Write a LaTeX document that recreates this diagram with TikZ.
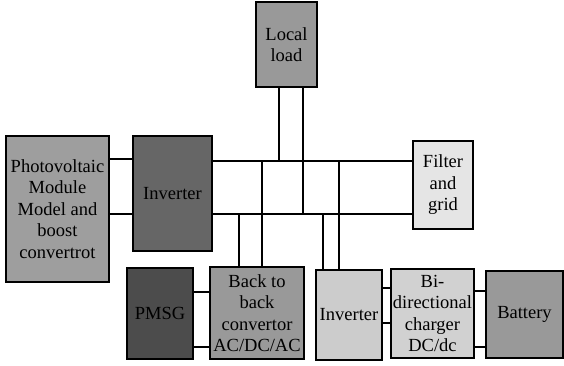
\documentclass[tikz,border=0pt]{standalone}
\usepackage{fontspec}
\setmainfont{Liberation Serif}
\begin{document}
\begin{tikzpicture}[x=1pt,y=-1pt,
  blk/.style={draw=black,line width=1.3pt,align=center,inner sep=0pt,
    font=\fontsize{18.5}{21.5}\selectfont},
  wire/.style={line width=1.3pt}]
\useasboundingbox (0,0) rectangle (564,366);
% boxes (center, width, height)
\node[blk,fill=black!40,minimum width=61,minimum height=85] (load) at (286.5,44.5) {Local\\load};
\node[blk,fill=black!38,minimum width=103,minimum height=146] (pv) at (57.5,209) {Photovoltaic\\Module\\Model and\\boost\\convertrot};
\node[blk,fill=black!60,minimum width=79,minimum height=115] (inv) at (172.5,193.5) {Inverter};
\node[blk,fill=black!10,minimum width=60,minimum height=88] (fil) at (443,185) {Filter\\and\\grid};
\node[blk,fill=black!70,minimum width=66,minimum height=91] (pmsg) at (160,313.5) {PMSG};
\node[blk,fill=black!40,minimum width=94,minimum height=92] (b2b) at (257,313) {Back to\\back\\convertor\\AC/DC/AC};
\node[blk,fill=black!20,minimum width=66,minimum height=90] (inv2) at (349,315) {Inverter};
\node[blk,fill=black!18,minimum width=83,minimum height=89] (bi) at (432.5,313.5) {Bi-\\directional\\charger\\DC/dc};
\node[blk,fill=black!40,minimum width=77,minimum height=87] (bat) at (524.5,314.5) {Battery};
% buses
\coordinate (tb) at (0,161);
\coordinate (bb) at (0,214);
\draw[wire] (inv.east |- tb) -- (fil.west |- tb);
\draw[wire] (inv.east |- bb) -- (fil.west |- bb);
% PV to inverter
\draw[wire] (pv.east |- 0,159) -- (inv.west |- 0,159);
\draw[wire] (pv.east |- 0,214) -- (inv.west |- 0,214);
% local load
\draw[wire] (load.south -| 279,0) -- (279,161);
\draw[wire] (load.south -| 303,0) -- (303,214);
% back to back
\draw[wire] (239,214) -- (b2b.north -| 239,0);
\draw[wire] (262,161) -- (b2b.north -| 262,0);
% inverter2
\draw[wire] (323,214) -- (inv2.north -| 323,0);
\draw[wire] (339,161) -- (inv2.north -| 339,0);
% PMSG to b2b
\draw[wire] (pmsg.east |- 0,292) -- (b2b.west |- 0,292);
\draw[wire] (pmsg.east |- 0,347) -- (b2b.west |- 0,347);
% inv2 to bi
\draw[wire] (inv2.east |- 0,288) -- (bi.west |- 0,288);
\draw[wire] (inv2.east |- 0,323) -- (bi.west |- 0,323);
% bi to battery
\draw[wire] (bi.east |- 0,291) -- (bat.west |- 0,291);
\draw[wire] (bi.east |- 0,347) -- (bat.west |- 0,347);
\end{tikzpicture}
\end{document}
